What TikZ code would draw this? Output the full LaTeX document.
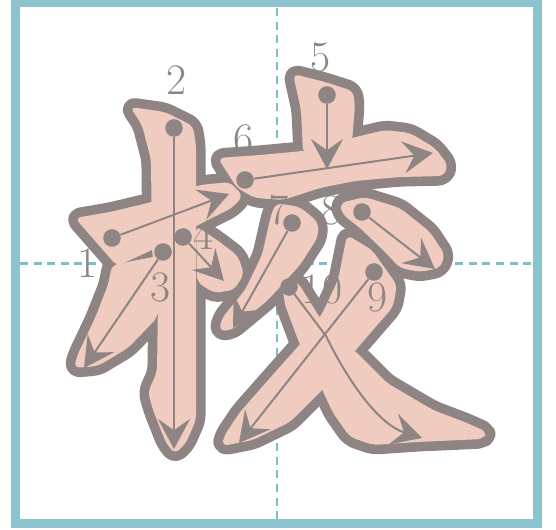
\documentclass[tikz,border=0pt]{standalone}
\usetikzlibrary{arrows.meta}
\usepackage{xcolor}

\definecolor{frameblue}{HTML}{8BC3CE}
\definecolor{guideblue}{HTML}{7CBFCB}
\definecolor{inkgray}{HTML}{8E8483}
\definecolor{inkpink}{HTML}{EFCCBF}

% Stroke shapes (pixel grid, y down)
\newcommand{\strokeone}{(75,218) -- (110,212) -- (152,202) -- (200,185) -- (230,182) -- (243,196) -- (232,208) -- (200,224) -- (152,250) -- (117,266) -- cycle}
\newcommand{\stroketwo}{(130,107) -- (165,112) -- (193,126) -- (196,145) -- (196,420) -- (186,443) -- (175,454) -- (166,443) -- (153,410) -- (148,392) -- (157,372) -- (158,300) -- (152,250) -- (151,160) -- (142,125) -- cycle}
\newcommand{\strokethree}{(112,265) -- (158,256) -- (164,278) -- (157,318) -- (128,348) -- (98,366) -- (74,368) -- (77,356) -- (95,318) -- (108,285) -- cycle}
\newcommand{\strokefour}{(196,226) -- (217,240) -- (238,256) -- (244,274) -- (234,290) -- (214,293) -- (197,282) -- cycle}
\newcommand{\strokefive}{(293,74) -- (325,82) -- (353,91) -- (355,105) -- (352,142) -- (303,153) -- (301,110) -- cycle}
\newcommand{\strokesix}{(218,158) -- (260,155) -- (303,151) -- (352,138) -- (385,130) -- (410,133) -- (435,148) -- (448,165) -- (444,176) -- (400,177) -- (355,181) -- (320,188) -- (283,200) -- (255,198) -- (237,188) -- cycle}
\newcommand{\strokeseven}{(276,203) -- (300,207) -- (318,222) -- (318,237) -- (300,265) -- (268,300) -- (232,330) -- (219,331) -- (222,318) -- (245,290) -- (262,255) -- (271,215) -- cycle}
\newcommand{\strokeeight}{(340,203) -- (365,197) -- (400,208) -- (430,232) -- (445,255) -- (440,268) -- (420,272) -- (400,268) -- (385,252) -- (360,228) -- (342,214) -- cycle}
\newcommand{\strokenine}{(347,235) -- (372,250) -- (397,285) -- (393,307) -- (360,345) -- (325,387) -- (290,422) -- (253,440) -- (222,446) -- (224,436) -- (240,412) -- (270,378) -- (302,342) -- (322,314) -- (338,280) -- cycle}
\newcommand{\stroketen}{(282,285) -- (297,281) -- (320,318) -- (353,349) -- (387,383) -- (433,410) -- (467,423) -- (487,432) -- (483,439) -- (417,442) -- (373,445) -- (350,437) -- (333,413) -- (320,385) -- (300,345) -- (285,305) -- cycle}

\begin{document}
\begin{tikzpicture}[
  x=0.25mm, y=-0.25mm,
  % Grid Styles
  frame/.style={draw=frameblue, line width=2.25mm},
  guide/.style={draw=guideblue, line width=0.6mm, dash pattern=on 2mm off 1.4mm},
  % Ink Styles
  inkline/.style={draw=inkgray, line width=4.8mm, line join=round, rounded corners=1.5mm},
  inkfill/.style={fill=inkpink, rounded corners=1.5mm},
  % Order Styles
  dot/.style={circle, fill=inkgray, minimum size=4.4mm, inner sep=0pt},
  strokearrow/.style={draw=inkgray, line width=0.5mm, -{Stealth[length=7.5mm, width=8mm, inset=2.8mm]}},
  numlabel/.style={text=inkgray, inner sep=0pt, font=\fontsize{31}{31}\selectfont}
]
\useasboundingbox (0,0) rectangle (556,530);

% Grid
\draw[guide] (277,8) -- (277,520);
\draw[guide] (20,263.5) -- (533,263.5);
\draw[frame] (15.5,3) rectangle (537.5,524);

% Character
\foreach \s in {\strokeone,\stroketwo,\strokethree,\strokefour,\strokefive,\strokesix,\strokeseven,\strokeeight,\strokenine,\stroketen}
  \draw[inkline] \s;
\foreach \s in {\strokeone,\stroketwo,\strokethree,\strokefour,\strokefive,\strokesix,\strokeseven,\strokeeight,\strokenine,\stroketen}
  \fill[inkfill] \s;

% Stroke order
\node[dot] (d1) at (112,238) {};
\node[dot] (d2) at (174,128) {};
\node[dot] (d3) at (163,252) {};
\node[dot] (d4) at (183,237) {};
\node[dot] (d5) at (327,95) {};
\node[dot] (d6) at (245,180) {};
\node[dot] (d7) at (292,223) {};
\node[dot] (d8) at (362,212) {};
\node[dot] (d9) at (374,272) {};
\node[dot] (d10) at (289,287) {};

\coordinate (e1) at (229,194);
\coordinate (e2) at (174,449);
\coordinate (e3) at (84,368);
\coordinate (e4) at (224,281);
\coordinate (e5) at (327,169);
\coordinate (e6) at (433,153);
\coordinate (e7) at (233,328);
\coordinate (e8) at (435,269);
\coordinate (e9) at (239,443);
\coordinate (e10) at (422,438);
\coordinate (c10) at (326,336);

\draw[strokearrow] (d1) -- (e1);
\draw[strokearrow] (d2) -- (e2);
\draw[strokearrow] (d3) -- (e3);
\draw[strokearrow] (d4) -- (e4);
\draw[strokearrow] (d5) -- (e5);
\draw[strokearrow] (d6) -- (e6);
\draw[strokearrow] (d7) -- (e7);
\draw[strokearrow] (d8) -- (e8);
\draw[strokearrow] (d9) -- (e9);
\draw[strokearrow] (d10) -- (c10) .. controls (350,385) and (380,425) .. (e10);

\node[numlabel] (n1) at (88,263) {1};
\node[numlabel] (n2) at (177,80) {2};
\node[numlabel] (n3) at (161,287) {3};
\node[numlabel] (n4) at (204,235) {4};
\node[numlabel] (n5) at (321,57) {5};
\node[numlabel] (n6) at (244,139) {6};
\node[numlabel] (n7) at (279,210) {7};
\node[numlabel] (n8) at (331,210) {8};
\node[numlabel] (n9) at (377,297) {9};
\node[numlabel] (n10) at (322,289) {10};

\end{tikzpicture}
\end{document}
